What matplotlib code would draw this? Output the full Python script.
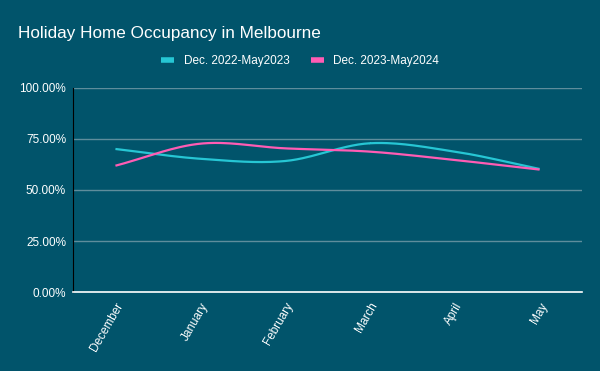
import numpy as np
import matplotlib
matplotlib.use("Agg")
import matplotlib.pyplot as plt
from matplotlib.ticker import FuncFormatter

# Datos
months = ["December", "January", "February", "March", "April", "May"]
occ_2022 = [70.1, 65.3, 64.2, 72.9, 68.8, 60.3]
occ_2023 = [61.9, 72.7, 70.4, 68.8, 64.7, 60.0]
labels = ["Dec. 2022-May2023", "Dec. 2023-May2024"]

bg = "#01546b"
cyan = "#26c6d4"
pink = "#ff5cb4"

plt.rcParams['font.family'] = ['Liberation Sans', 'DejaVu Sans']


def smooth(x, y, n=30):
    # curva Catmull-Rom entre los puntos
    x = np.asarray(x, float)
    y = np.asarray(y, float)
    px = np.concatenate([[2*x[0]-x[1]], x, [2*x[-1]-x[-2]]])
    py = np.concatenate([[2*y[0]-y[1]], y, [2*y[-1]-y[-2]]])
    xs, ys = [], []
    t = np.linspace(0, 1, n)
    for i in range(1, len(px)-2):
        for p, out in ((px, xs), (py, ys)):
            p0, p1, p2, p3 = p[i-1], p[i], p[i+1], p[i+2]
            out.extend(0.5*((2*p1) + (-p0+p2)*t + (2*p0-5*p1+4*p2-p3)*t**2
                            + (-p0+3*p1-3*p2+p3)*t**3))
    return np.array(xs), np.array(ys)


fig = plt.figure(figsize=(6, 3.71), dpi=100, facecolor=bg)
ax = fig.add_axes([0.1217, 0.2129, 0.8483, 0.55])
ax.set_facecolor(bg)

xi = np.arange(len(months))
for vals, col, lab in ((occ_2022, cyan, labels[0]), (occ_2023, pink, labels[1])):
    sx, sy = smooth(xi, vals)
    ax.plot(sx, sy, color=col, lw=1.6, label=lab, solid_capstyle='butt')

ax.set_xlim(-0.5, len(months)-0.5)
ax.set_ylim(0, 100)
ax.set_yticks([0, 25, 50, 75, 100])
ax.yaxis.set_major_formatter(FuncFormatter(lambda v, p: f"{v:.2f}%"))
ax.grid(axis='y', color='#5e8d9c', lw=1)
ax.set_axisbelow(True)
ax.set_xticks(xi)
ax.set_xticklabels(months, rotation=60, ha='right', rotation_mode='anchor')
ax.tick_params(colors='white', labelsize=8.5, length=0)
ax.tick_params(axis='x', pad=6)
ax.tick_params(axis='y', pad=5)
for s in ('top', 'right'):
    ax.spines[s].set_visible(False)
ax.spines['left'].set_color('black')
ax.spines['bottom'].set_color('white')
ax.spines['bottom'].set_linewidth(1.2)

fig.text(0.03, 0.91, "Holiday Home Occupancy in Melbourne", color='white',
         fontsize=12.3, va='center')
leg = fig.legend(loc='center', bbox_to_anchor=(0.5, 0.835), ncol=2, frameon=False,
                 fontsize=8.5, handlelength=1.1, handleheight=0.5,
                 columnspacing=1.8, handletextpad=0.8)
for t in leg.get_texts():
    t.set_color('white')
for h in leg.legend_handles:
    h.set_linewidth(4)

fig.savefig("out.png", dpi=100, facecolor=bg)
